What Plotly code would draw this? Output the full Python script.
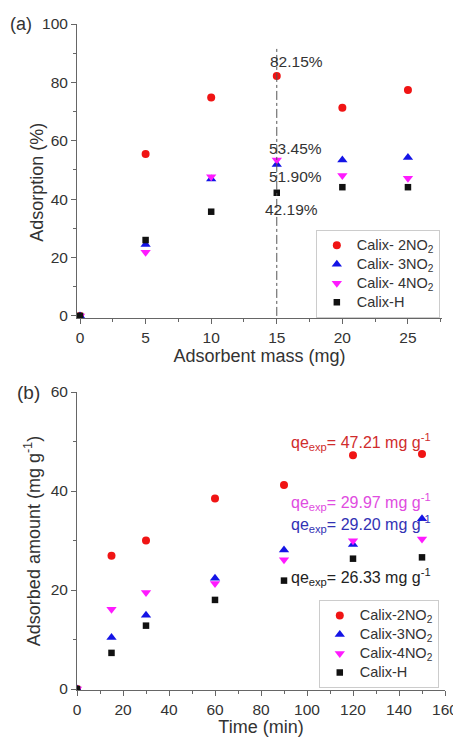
import plotly.graph_objects as go

# Panel (a): adsorption vs adsorbent mass
mass = [0, 5, 10, 15, 20, 25]
ads_2no2 = [0, 55.5, 74.8, 82.15, 71.3, 77.4]
ads_3no2 = [0, 24.5, 46.9, 51.90, 53.4, 54.3]
ads_4no2 = [0, 21.8, 47.7, 53.45, 48.1, 47.2]
ads_h = [0, 26.0, 35.7, 42.19, 44.1, 44.1]
a_labels = ["82.15%", "53.45%", "51.90%", "42.19%"]
a_label_x = [16.5, 16.4, 16.4, 16.1]
a_label_y = [87.0, 57.5, 47.6, 36.6]

# Panel (b): adsorbed amount vs time
time = [0, 15, 30, 60, 90, 120, 150]
q_2no2 = [0, 26.9, 30.0, 38.5, 41.2, 47.21, 47.5]
q_3no2 = [0, 10.4, 14.9, 22.4, 28.1, 29.20, 34.4]
q_4no2 = [0, 16.1, 19.5, 21.3, 26.1, 29.97, 30.3]
q_h = [0, 7.3, 12.8, 18.0, 21.9, 26.33, 26.6]
qe_values = ["47.21", "29.97", "29.20", "26.33"]
qe_y = [49.9, 37.7, 33.4, 22.7]

RED = "#f01414"
BLUE = "#1414e6"
MAG = "#ff1aff"
BLK = "#111111"
FONT = "Liberation Sans, Arial, sans-serif"
TXT = "#333333"


def leg(t):
    return f'<span style="font-size:14.5px">{t}</span>'


fig = go.Figure()

series_a = [
    ("Calix- 2NO<sub>2</sub>", ads_2no2, RED, "circle", 8),
    ("Calix- 3NO<sub>2</sub>", ads_3no2, BLUE, "triangle-up", 9),
    ("Calix- 4NO<sub>2</sub>", ads_4no2, MAG, "triangle-down", 9),
    ("Calix-H", ads_h, BLK, "square", 6.5),
]
for name, ys, col, sym, sz in series_a:
    fig.add_trace(go.Scatter(x=mass, y=ys, mode="markers", name=leg(name),
                             marker=dict(color=col, symbol=sym, size=sz, line=dict(width=0)),
                             xaxis="x", yaxis="y", legend="legend"))

series_b = [
    ("Calix-2NO<sub>2</sub>", q_2no2, RED, "circle", 8),
    ("Calix-3NO<sub>2</sub>", q_3no2, BLUE, "triangle-up", 9),
    ("Calix-4NO<sub>2</sub>", q_4no2, MAG, "triangle-down", 9),
    ("Calix-H", q_h, BLK, "square", 6.5),
]
for name, ys, col, sym, sz in series_b:
    fig.add_trace(go.Scatter(x=time, y=ys, mode="markers", name=leg(name),
                             marker=dict(color=col, symbol=sym, size=sz, line=dict(width=0)),
                             xaxis="x2", yaxis="y2", legend="legend2"))

# dash-dot vertical line at 15 mg
fig.add_shape(type="line", xref="x", yref="y", x0=mass[3], x1=mass[3], y0=0, y1=92,
              line=dict(color="#555555", width=1, dash="dashdot"))

for lab, xx, yy in zip(a_labels, a_label_x, a_label_y):
    fig.add_annotation(x=xx, y=yy, xref="x", yref="y", text=lab, showarrow=False,
                       font=dict(size=15.5, color=TXT, family=FONT))

qe_cols = ["#d02c2c", "#e04ce0", "#3232b4", "#222222"]
for v, yy, c in zip(qe_values, qe_y, qe_cols):
    fig.add_annotation(x=92, y=yy, xref="x2", yref="y2", xanchor="left",
                       text=f"qe<sub>exp</sub>= {v} mg g<sup>-1</sup>", showarrow=False,
                       font=dict(size=16, color=c, family=FONT))

fig.add_annotation(x=-0.187, y=1.0, xref="paper", yref="paper", text="(a)", showarrow=False,
                   xanchor="left", yanchor="middle", font=dict(size=18, color=TXT, family=FONT))
fig.add_annotation(x=-0.168, y=0.4474, xref="paper", yref="paper", text="(b)", showarrow=False,
                   xanchor="left", yanchor="middle", font=dict(size=19, color=TXT, family=FONT))
# y title of panel (a), placed a little below the axis centre as in the source
fig.add_annotation(x=-0.109, y=0.7628, xref="paper", yref="paper", text="Adsorption (%)",
                   textangle=-90, showarrow=False, xanchor="center", yanchor="middle",
                   font=dict(size=18, color=TXT, family=FONT))

axis_common = dict(showline=True, linecolor="#666666", linewidth=1, ticks="outside",
                   ticklen=5, tickcolor="#666666", showgrid=False, zeroline=False,
                   automargin=False,
                   tickfont=dict(size=15.5, color=TXT, family=FONT),
                   title_font=dict(size=18, color=TXT, family=FONT))

fig.update_layout(
    width=453, height=729,
    margin=dict(l=69, r=16, t=16, b=47),
    paper_bgcolor="white", plot_bgcolor="white",
    font=dict(family=FONT, color=TXT),
    xaxis=dict(domain=[0, 0.992], anchor="y", range=[-0.23, 27.6],
               tickvals=[0, 5, 10, 15, 20, 25],
               minor=dict(ticks="outside", ticklen=3, tickcolor="#666666", dtick=2.5, tick0=0),
               title=dict(text="Adsorbent mass (mg)", standoff=4), **axis_common),
    yaxis=dict(domain=[0.5586, 1], anchor="x", range=[-0.7, 100],
               tickvals=[0, 20, 40, 60, 80, 100],
               minor=dict(ticks="outside", ticklen=3, tickcolor="#666666", dtick=10, tick0=0),
               **axis_common),
    xaxis2=dict(domain=[0, 1], anchor="y2", range=[0, 160],
                tickvals=[0, 20, 40, 60, 80, 100, 120, 140, 160],
                minor=dict(ticks="outside", ticklen=3, tickcolor="#666666", dtick=10, tick0=0),
                title=dict(text="Time (min)", standoff=4), **axis_common),
    yaxis2=dict(domain=[0, 0.4474], anchor="x2", range=[-0.2, 60],
                tickvals=[0, 20, 40, 60],
                minor=dict(ticks="outside", ticklen=3, tickcolor="#666666", dtick=10, tick0=0),
                title=dict(text="Adsorbed amount (mg g<sup>-1</sup>)", standoff=5), **axis_common),
    legend=dict(x=0.649, y=0.691, xanchor="left", yanchor="top",
                bordercolor="#cccccc", borderwidth=1, bgcolor="white",
                font=dict(size=12, color=TXT, family=FONT), tracegroupgap=0),
    legend2=dict(x=0.657, y=0.135, xanchor="left", yanchor="top",
                 bordercolor="#cccccc", borderwidth=1, bgcolor="white",
                 font=dict(size=12, color=TXT, family=FONT), tracegroupgap=0),
)

fig.write_html("out.html")
